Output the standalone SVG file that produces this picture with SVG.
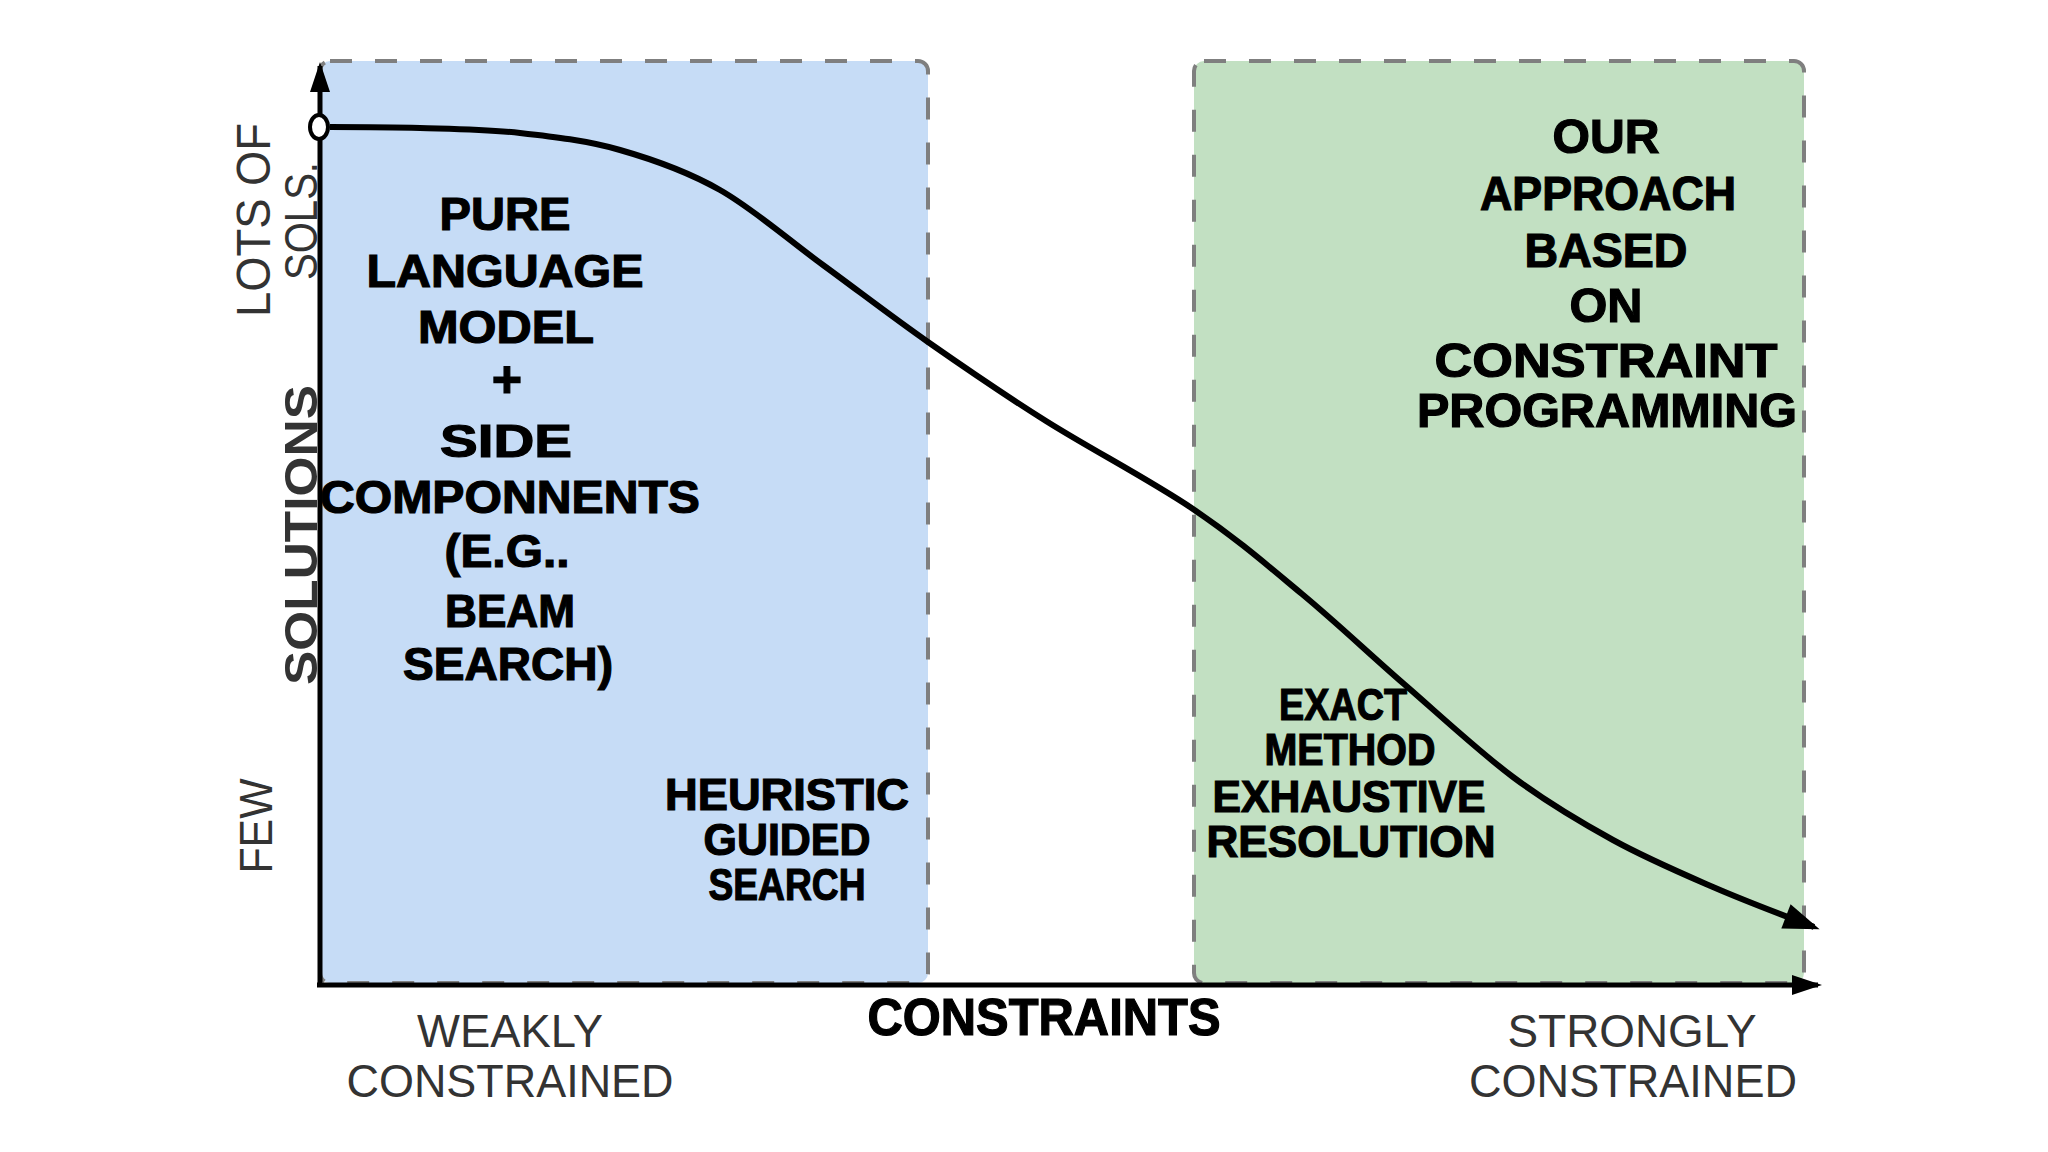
<svg xmlns="http://www.w3.org/2000/svg" width="2048" height="1152" viewBox="0 0 2048 1152">
<defs>
<style>
.region{stroke:#7f7f7f;stroke-width:4;stroke-dasharray:22 23}
.b{font-family:"Liberation Sans",Arial,sans-serif;font-weight:bold;fill:#000;stroke:#000;stroke-width:1.2;text-anchor:middle}
.r{font-family:"Liberation Sans",Arial,sans-serif;fill:#333;text-anchor:middle}
.axis{stroke:#000;stroke-width:5;fill:none}
.curve{stroke:#000;stroke-width:6;fill:none}
</style>
<marker id="ah" markerUnits="userSpaceOnUse" markerWidth="40" markerHeight="30" refX="30" refY="13" orient="auto" overflow="visible">
<path d="M0,0 L36,13 L0,26 z" fill="#000"/>
</marker>
<marker id="axh" markerUnits="userSpaceOnUse" markerWidth="40" markerHeight="30" refX="26" refY="10" orient="auto" overflow="visible">
<path d="M0,0 L30,10 L0,20 z" fill="#000"/>
</marker>
</defs>
<rect width="2048" height="1152" fill="#fff"/>

<g id="region-heuristic">
<rect class="region" x="320" y="61" width="608" height="922" rx="10" fill="#c6dcf6"/>
<text class="b" font-size="47" x="505" y="230" textLength="131" lengthAdjust="spacingAndGlyphs">PURE</text>
<text class="b" font-size="47" x="505" y="287" textLength="277" lengthAdjust="spacingAndGlyphs">LANGUAGE</text>
<text class="b" font-size="47" x="506" y="343" textLength="176" lengthAdjust="spacingAndGlyphs">MODEL</text>
<text class="b" font-size="52" x="507" y="397">+</text>
<text class="b" font-size="47" x="506" y="457" textLength="132" lengthAdjust="spacingAndGlyphs">SIDE</text>
<text class="b" font-size="47" x="510" y="513" textLength="380" lengthAdjust="spacingAndGlyphs">COMPONNENTS</text>
<text class="b" font-size="47" x="507" y="567" textLength="125" lengthAdjust="spacingAndGlyphs">(E.G..</text>
<text class="b" font-size="47" x="510" y="627" textLength="130" lengthAdjust="spacingAndGlyphs">BEAM</text>
<text class="b" font-size="47" x="508" y="680" textLength="210" lengthAdjust="spacingAndGlyphs">SEARCH)</text>
<text class="b" font-size="44" x="787" y="810" textLength="244" lengthAdjust="spacingAndGlyphs">HEURISTIC</text>
<text class="b" font-size="44" x="787" y="855" textLength="167" lengthAdjust="spacingAndGlyphs">GUIDED</text>
<text class="b" font-size="44" x="787" y="900" textLength="157" lengthAdjust="spacingAndGlyphs">SEARCH</text>
</g>

<g id="region-exact">
<rect class="region" x="1194" y="61" width="610" height="922" rx="10" fill="#c2e0c2"/>
<text class="b" font-size="48" x="1606" y="153" textLength="107" lengthAdjust="spacingAndGlyphs">OUR</text>
<text class="b" font-size="48" x="1608" y="210" textLength="256" lengthAdjust="spacingAndGlyphs">APPROACH</text>
<text class="b" font-size="48" x="1606" y="267" textLength="163" lengthAdjust="spacingAndGlyphs">BASED</text>
<text class="b" font-size="48" x="1606" y="322" textLength="73" lengthAdjust="spacingAndGlyphs">ON</text>
<text class="b" font-size="48" x="1606" y="377" textLength="343" lengthAdjust="spacingAndGlyphs">CONSTRAINT</text>
<text class="b" font-size="48" x="1607" y="427" textLength="380" lengthAdjust="spacingAndGlyphs">PROGRAMMING</text>
<text class="b" font-size="44" x="1343" y="720" textLength="128" lengthAdjust="spacingAndGlyphs">EXACT</text>
<text class="b" font-size="44" x="1350" y="765" textLength="171" lengthAdjust="spacingAndGlyphs">METHOD</text>
<text class="b" font-size="44" x="1349" y="812" textLength="273" lengthAdjust="spacingAndGlyphs">EXHAUSTIVE</text>
<text class="b" font-size="44" x="1351" y="857" textLength="289" lengthAdjust="spacingAndGlyphs">RESOLUTION</text>
</g>

<g id="axes">
<line class="axis" x1="320" y1="985" x2="320" y2="66" marker-end="url(#axh)"/>
<line class="axis" x1="317" y1="985" x2="1818" y2="985" marker-end="url(#axh)"/>
<text class="r" font-size="48" transform="translate(270,220) rotate(-90)" textLength="194" lengthAdjust="spacingAndGlyphs">LOTS OF</text>
<text class="r" font-size="46" transform="translate(317,221) rotate(-90)" textLength="118" lengthAdjust="spacingAndGlyphs">SOLS.</text>
<text class="r" font-size="47" font-weight="bold" transform="translate(317,535) rotate(-90)" textLength="300" lengthAdjust="spacingAndGlyphs">SOLUTIONS</text>
<text class="r" font-size="47" transform="translate(272,826) rotate(-90)" textLength="95" lengthAdjust="spacingAndGlyphs">FEW</text>
<text class="b" font-size="51" x="1044" y="1035" textLength="353" lengthAdjust="spacingAndGlyphs">CONSTRAINTS</text>
<text class="r" font-size="47" x="510" y="1047" textLength="186" lengthAdjust="spacingAndGlyphs">WEAKLY</text>
<text class="r" font-size="47" x="510" y="1097" textLength="327" lengthAdjust="spacingAndGlyphs">CONSTRAINED</text>
<text class="r" font-size="47" x="1632" y="1047" textLength="249" lengthAdjust="spacingAndGlyphs">STRONGLY</text>
<text class="r" font-size="47" x="1633" y="1097" textLength="328" lengthAdjust="spacingAndGlyphs">CONSTRAINED</text>
</g>

<g id="connectors">
<path class="curve" marker-end="url(#ah)" d="M330,127 C360,127 388.3,127 420,128 C451.7,129 486.7,129.3 520,133 C553.3,136.7 586.7,140.5 620,150 C653.3,159.5 686.2,170.8 720,190 C753.8,209.2 788.3,239.7 823,265 C857.7,290.3 890.8,316 928,342 C965.2,368 1001.8,393.2 1046,421 C1090.2,448.8 1150.3,480.2 1193,509 C1235.7,537.8 1266.8,564.8 1302,594 C1337.2,623.2 1368.8,653.5 1404,684 C1439.2,714.5 1478.2,751 1513,777 C1547.8,803 1579.7,821.7 1613,840 C1646.3,858.3 1678.5,872 1713,887 C1747.5,902 1784.3,915.7 1814,927"/>
<ellipse cx="319" cy="127" rx="9" ry="12" fill="#fff" stroke="#000" stroke-width="4"/>
</g>
</svg>
